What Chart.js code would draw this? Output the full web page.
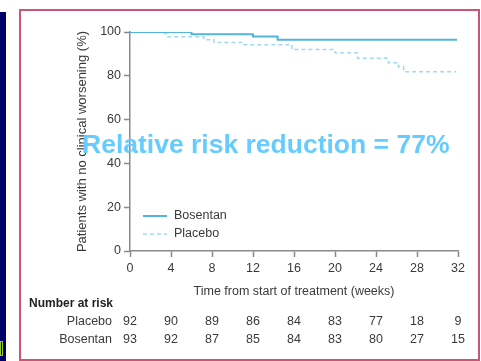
<!DOCTYPE html>
<html>
<head>
<meta charset="utf-8">
<script src="https://cdn.jsdelivr.net/npm/chart.js@4.4.0/dist/chart.umd.min.js"></script>
<style>
  html, body { margin: 0; padding: 0; background: #fff; }
  #wrap { position: relative; width: 481px; height: 361px; overflow: hidden; background: #fff; }
  #strip { position: absolute; left: 0; top: 12px; width: 6px; height: 349px; background: #000066; }
  #mark { position: absolute; left: 0; top: 341px; width: 1px; height: 13px; border: 1px solid #99cc33; }
  #frame { position: absolute; left: 19px; top: 9px; width: 457px; height: 348px; border: 2px solid #cc5577; }
  canvas { position: absolute; left: 0; top: 0; }
</style>
</head>
<body>
<div id="wrap">
  <div id="strip"></div>
  <div id="mark"></div>
  <div id="frame"></div>
  <canvas id="km" width="481" height="361"></canvas>
</div>
<script>
// Kaplan-Meier steps (week, % free of worsening)
const bosentanWeeks = [0, 6.0, 12.0, 14.4, 31.9];
const bosentanPct = [100, 99, 98, 96.5, 96.5];
const placeboWeeks = [0, 3.1, 3.6, 7.2, 8.2, 11.0, 15.8, 20.0, 22.2, 25.2, 26.2, 26.7, 31.8];
const placeboPct = [100, 99.3, 97.8, 96.5, 95.2, 94.2, 92.0, 90.5, 88.0, 86.0, 84.0, 81.8, 81.8];

// number at risk table
const riskWeeks = [0, 4, 8, 12, 16, 20, 24, 28, 32];
const placeboAtRisk = [92, 90, 89, 86, 84, 83, 77, 18, 9];
const bosentanAtRisk = [93, 92, 87, 85, 84, 83, 80, 27, 15];

const FONT = "'Liberation Sans', Arial, sans-serif";
const TEXT = '#3a3a3a';
const AXIS = '#8a8a8a';

const toPoints = (xs, ys) => xs.map((x, i) => ({x: x, y: ys[i]}));

const extras = {
    id: 'extras',
    afterDraw(chart) {
        const ctx = chart.ctx;
        const xs = chart.scales.x;
        ctx.save();

        // legend
        const legendRows = [216, 234];
        chart.data.datasets.forEach((ds, i) => {
            const y = legendRows[i];
            ctx.strokeStyle = ds.borderColor;
            ctx.lineWidth = ds.borderWidth;
            ctx.setLineDash(ds.borderDash || []);
            ctx.beginPath();
            ctx.moveTo(143, y);
            ctx.lineTo(167, y);
            ctx.stroke();
            ctx.setLineDash([]);
            ctx.fillStyle = TEXT;
            ctx.font = '12.5px ' + FONT;
            ctx.textAlign = 'left';
            ctx.textBaseline = 'middle';
            ctx.fillText(ds.label, 174, y);
        });

        // number at risk
        ctx.fillStyle = '#222';
        ctx.font = 'bold 12px ' + FONT;
        ctx.textAlign = 'left';
        ctx.textBaseline = 'middle';
        ctx.fillText('Number at risk', 29, 304);

        ctx.font = '12.5px ' + FONT;
        ctx.fillStyle = TEXT;
        const rows = [['Placebo', placeboAtRisk, 322], ['Bosentan', bosentanAtRisk, 340]];
        rows.forEach(r => {
            ctx.textAlign = 'right';
            ctx.fillText(r[0], 112, r[2]);
            ctx.textAlign = 'center';
            r[1].forEach((n, i) => {
                ctx.fillText(String(n), xs.getPixelForValue(riskWeeks[i]), r[2]);
            });
        });

        // overlay caption
        ctx.fillStyle = '#66ccff';
        ctx.font = 'bold 26.5px ' + FONT;
        ctx.textAlign = 'left';
        ctx.fillText('Relative risk reduction = 77%', 82, 146);
        ctx.restore();
    }
};

new Chart(document.getElementById('km'), {
    type: 'line',
    data: {
        datasets: [
            {
                label: 'Bosentan',
                data: toPoints(bosentanWeeks, bosentanPct),
                borderColor: '#55b4da',
                borderWidth: 2,
                stepped: true,
                pointRadius: 0,
                fill: false
            },
            {
                label: 'Placebo',
                data: toPoints(placeboWeeks, placeboPct),
                borderColor: '#a3d9ef',
                borderWidth: 1.5,
                borderDash: [4, 3],
                stepped: true,
                pointRadius: 0,
                fill: false
            }
        ]
    },
    options: {
        responsive: false,
        animation: false,
        devicePixelRatio: 1,
        layout: { padding: { left: 75, right: 23, top: 32, bottom: 58 } },
        plugins: {
            legend: { display: false },
            tooltip: { enabled: false }
        },
        scales: {
            x: {
                type: 'linear',
                min: 0,
                max: 32,
                afterFit: s => { s.height = 52; },
                border: { display: true, color: AXIS, width: 1.5 },
                grid: { drawOnChartArea: false, drawTicks: true, tickLength: 6, color: AXIS, tickWidth: 1.5 },
                ticks: { stepSize: 4, padding: 4, color: TEXT, font: { family: FONT, size: 12.5 } },
                title: {
                    display: true,
                    text: 'Time from start of treatment (weeks)',
                    color: TEXT,
                    padding: { top: 0, bottom: 4 },
                    font: { family: FONT, size: 12.5 }
                }
            },
            y: {
                min: 0,
                max: 100,
                afterFit: s => { s.width = 55; },
                border: { display: true, color: AXIS, width: 1.5 },
                grid: { drawOnChartArea: false, drawTicks: true, tickLength: 6, color: AXIS, tickWidth: 1.5 },
                ticks: { stepSize: 20, padding: 3, color: TEXT, font: { family: FONT, size: 12.5 } },
                title: {
                    display: true,
                    text: 'Patients with no clinical worsening (%)',
                    color: TEXT,
                    padding: { top: 0, bottom: 0 },
                    font: { family: FONT, size: 13 }
                }
            }
        }
    },
    plugins: [extras]
});
</script>
</body>
</html>
